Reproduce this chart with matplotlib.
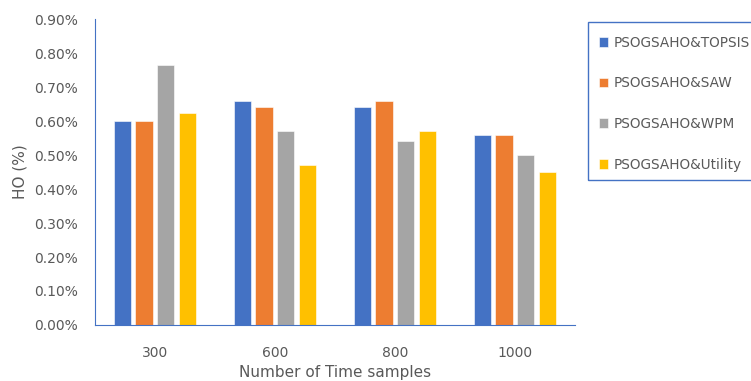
import matplotlib.pyplot as plt
import matplotlib.patches as mpatches
import numpy as np

samples = ['300', '600', '800', '1000']
series = ['PSOGSAHO&TOPSIS', 'PSOGSAHO&SAW', 'PSOGSAHO&WPM', 'PSOGSAHO&Utility']
topsis = [0.60, 0.66, 0.64, 0.56]
saw = [0.60, 0.64, 0.66, 0.56]
wpm = [0.765, 0.57, 0.54, 0.50]
utility = [0.625, 0.47, 0.57, 0.45]
colors = ['#4472C4', '#ED7D31', '#A5A5A5', '#FFC000']

plt.rcParams['font.family'] = ['DejaVu Sans']
txt = '#595959'

fig = plt.figure(figsize=(7.51, 3.81), dpi=100)
ax = fig.add_axes([0.1265, 0.147, 0.639, 0.803])

x = np.arange(len(samples))
step = 0.18
width = 0.145
for i, (vals, name) in enumerate(zip([topsis, saw, wpm, utility], series)):
    ax.bar(x + (i - 1.5) * step, vals, width, color=colors[i], label=name,
           edgecolor='white', linewidth=0.4)

ax.set_xlim(-0.5, 3.5)
ax.set_ylim(0, 0.9)
ax.set_yticks(np.arange(0, 0.91, 0.1))
ax.set_yticklabels(['%.2f%%' % v for v in np.arange(0, 0.91, 0.1)])
ax.set_xticks(x)
ax.set_xticklabels(samples)
ax.tick_params(length=0, colors=txt, labelsize=10)
ax.tick_params(axis='y', pad=12)
ax.tick_params(axis='x', pad=15)
for s in ['top', 'right']:
    ax.spines[s].set_visible(False)
ax.spines['left'].set_color('#4472C4')
ax.spines['bottom'].set_color('#4472C4')
ax.set_ylabel('HO (%)', color=txt, fontsize=11, labelpad=5)
ax.set_xlabel('Number of Time samples', color=txt, fontsize=11, labelpad=4)

fig.patches.append(mpatches.Rectangle((588 / 751, 1 - 180 / 381), 0.3, 158 / 381,
                                      transform=fig.transFigure, fill=False,
                                      edgecolor='#4472C4', linewidth=1))
leg = fig.legend(loc='upper left', bbox_to_anchor=(0.79, 0.92), frameon=False,
                 fontsize=9.8, labelspacing=1.95, handlelength=0.7, handleheight=0.7,
                 handletextpad=0.4, borderaxespad=0)
for t in leg.get_texts():
    t.set_color(txt)

fig.savefig('out.png', dpi=100)
